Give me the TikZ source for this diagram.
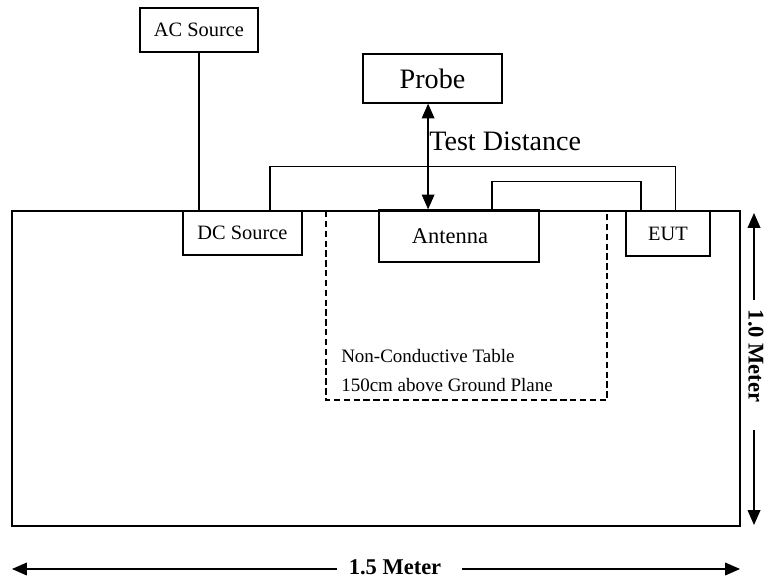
\documentclass[tikz,border=0pt]{standalone}
\usepackage{fontspec}
\setmainfont{Liberation Serif}
\usetikzlibrary{arrows.meta}

\begin{document}
\begin{tikzpicture}[x=0.025cm, y=-0.025cm,
		box/.style={draw, line width=0.9pt, inner sep=0pt},
		wire/.style={line width=0.9pt},
		tip/.style={-{Triangle[length=10.5pt,width=9pt]}, line width=0.9pt},
		bothtips/.style={{Triangle[length=10.5pt,width=9pt]}-{Triangle[length=10.5pt,width=9pt]}, line width=0.9pt},
		smalltext/.style={font=\fontsize{14.5}{17}\selectfont},
		bigtext/.style={font=\fontsize{20}{24}\selectfont},
		dimtext/.style={font=\fontsize{16}{19}\selectfont\bfseries, inner sep=0pt}]
		%%%%% START %%%%%
		
		\useasboundingbox (0,0) rectangle (768,582);
		
		\draw[line width=1.6pt] (12,211) rectangle (740,526);
		\draw[line width=0.9pt, dash pattern=on 4.5pt off 2.5pt] (326,211) rectangle (607,400);
		
		\node[box, smalltext, minimum width=2.95cm, minimum height=1.1cm] (ac) at (199,30) {AC Source};
		\node[box, bigtext, minimum width=3.475cm, minimum height=1.225cm] (probe) at (432.5,78.5) {Probe};
		\node[box, smalltext, minimum width=2.975cm, minimum height=1.1cm] (dc) at (242.5,233) {DC Source};
		\node[box, font=\fontsize{16}{19}\selectfont, minimum width=4cm, minimum height=1.3cm] (ant) at (459,236) {Antenna\hspace*{0.45cm}};
		\node[box, smalltext, minimum width=2.1cm, minimum height=1.125cm] (eut) at (668,233.5) {EUT};
		
		\draw[wire] (ac.south) -- (ac.south |- dc.north);
		\draw[wire] ([xshift=0.69cm]dc.north) -- ++(0,-44) -| ([xshift=0.18cm]eut.north);
		\draw[wire] ([xshift=0.825cm]ant.north) -- ++(0,-28) -| ([xshift=-0.675cm]eut.north);
		
		\draw[bothtips] ([xshift=-0.11cm]probe.south) -- ([xshift=-0.11cm]probe.south |- ant.north);
		\node[bigtext, anchor=west, inner sep=0pt] (dist) at (429,141) {Test Distance};
		
		\node[font=\fontsize{13.5}{16}\selectfont, anchor=base west, inner sep=0pt] (tab1) at (341,363) {Non-Conductive Table};
		\node[font=\fontsize{13.5}{16}\selectfont, anchor=base west, inner sep=0pt] (tab2) at (341,392) {150cm above Ground Plane};
		
		\node[dimtext, rotate=-90] (height) at (756,356) {1.0 Meter};
		\coordinate (htop) at (754,213);
		\coordinate (hbot) at (754,525);
		\draw[tip] (754,300) -- (htop);
		\draw[tip] (754,430) -- (hbot);
		
		\node[dimtext] (width) at (395,567) {1.5 Meter};
		\coordinate (wleft) at (12,569);
		\coordinate (wright) at (740,569);
		\draw[tip] (337,569) -- (wleft);
		\draw[tip] (462,569) -- (wright);
		
		%%%%% END %%%%%
\end{tikzpicture}
\end{document}
